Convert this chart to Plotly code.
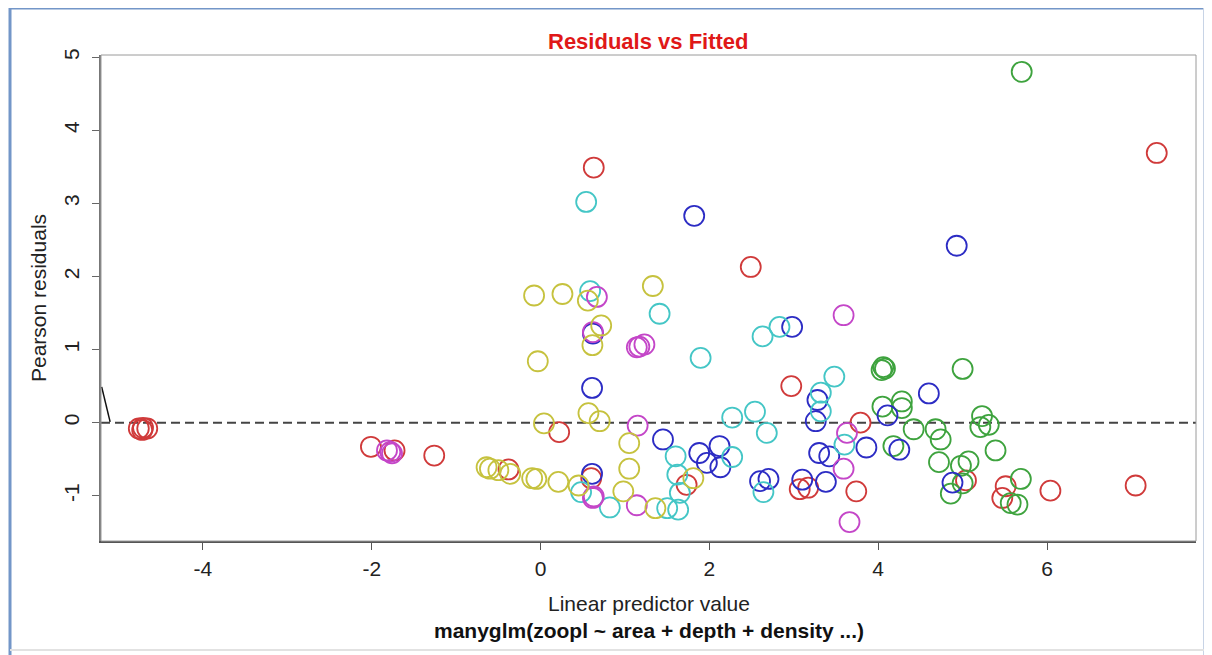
import plotly.graph_objects as go

# ---- data ----
red_x = [-4.76, -4.71, -4.66, -4.72, -2.01, -1.73, -1.26, -0.38, 0.22, 0.60, 0.63, 1.73,
         2.49, 2.97, 3.07, 3.17, 3.74, 3.79, 5.04, 5.51, 5.47, 6.04, 7.05, 7.30]
red_y = [-0.08, -0.07, -0.08, -0.10, -0.33, -0.38, -0.45, -0.64, -0.13, -0.76, 3.49, -0.85,
         2.13, 0.50, -0.91, -0.89, -0.94, 0.00, -0.79, -0.87, -1.03, -0.93, -0.86, 3.69]

green_x = [4.04, 4.06, 4.08, 4.05, 4.28, 4.28, 4.18, 4.42, 4.68, 4.74, 4.72, 4.98, 5.07,
           5.00, 5.23, 5.21, 5.31, 5.39, 4.86, 5.00, 5.69, 5.57, 5.65, 5.70]
green_y = [0.72, 0.76, 0.74, 0.22, 0.29, 0.20, -0.32, -0.09, -0.09, -0.23, -0.54, -0.59, -0.53,
           0.735, 0.09, -0.06, -0.03, -0.38, -0.97, -0.83, -0.77, -1.10, -1.12, 4.80]

blue_x = [0.61, 0.62, 0.61, 1.45, 1.82, 1.88, 1.97, 2.12, 2.13, 2.60, 2.70, 2.98, 3.10,
          3.26, 3.28, 3.30, 3.38, 3.42, 3.86, 4.11, 4.25, 4.60, 4.88, 4.93]
blue_y = [0.475, 1.22, -0.70, -0.23, 2.83, -0.415, -0.55, -0.32, -0.61, -0.80, -0.77, 1.31, -0.78,
          0.02, 0.31, -0.415, -0.81, -0.46, -0.34, 0.10, -0.37, 0.40, -0.82, 2.42]

cyan_x = [0.54, 0.587, 1.41, 1.896, 0.48, 0.82, 1.50, 1.63, 1.60, 1.62, 1.65, 2.27, 2.27,
          2.54, 2.64, 2.68, 2.63, 2.83, 3.32, 3.32, 3.48, 3.60]
cyan_y = [3.02, 1.80, 1.49, 0.886, -0.95, -1.16, -1.17, -1.19, -0.46, -0.71, -0.96, 0.07, -0.47,
          0.15, -0.95, -0.14, 1.18, 1.31, 0.41, 0.155, 0.63, -0.30]

magenta_x = [-1.82, -1.78, -1.76, 0.667, 0.62, 1.14, 1.17, 1.23, 0.63, 0.62, 1.14, 1.15,
             3.59, 3.63, 3.59, 3.66]
magenta_y = [-0.38, -0.40, -0.42, 1.72, 1.24, 1.03, 1.04, 1.07, -1.01, -1.03, -1.13, -0.04,
             1.47, -0.14, -0.63, -1.36]

yellow_x = [-0.64, -0.60, -0.50, -0.36, -0.10, -0.05, 0.21, 0.45, -0.077, 0.259, 0.56, 1.33,
            0.718, 0.614, -0.033, 0.04, 0.567, 0.70, 0.98, 1.05, 1.05, 1.36, 1.81]
yellow_y = [-0.61, -0.63, -0.65, -0.70, -0.76, -0.77, -0.81, -0.86, 1.74, 1.76, 1.67, 1.87,
            1.33, 1.06, 0.84, -0.01, 0.13, 0.02, -0.94, -0.28, -0.63, -1.17, -0.76]

smooth_x = [-5.20, -5.10]
smooth_y = [0.49, 0.01]

x_ticks = [-4, -2, 0, 2, 4, 6]
x_ticklabels = ["-4", "-2", "0", "2", "4", "6"]
y_ticks = [-1, 0, 1, 2, 3, 4, 5]
y_ticklabels = ["-1", "0", "1", "2", "3", "4", "5"]
x_range = [-5.208, 7.765]
y_range = [-1.619, 5.03]

series = [
    (red_x, red_y, "#d03a3a"),
    (green_x, green_y, "#3ea33e"),
    (blue_x, blue_y, "#2c2cc4"),
    (cyan_x, cyan_y, "#44c6c6"),
    (magenta_x, magenta_y, "#c446c8"),
    (yellow_x, yellow_y, "#c6c23e"),
]

fig = go.Figure()

# dashed zero line
fig.add_trace(go.Scatter(x=x_range, y=[0, 0], mode="lines",
                         line=dict(color="#444444", width=2, dash="9px,5px"),
                         hoverinfo="skip", showlegend=False))

for xs, ys, col in series:
    fig.add_trace(go.Scatter(x=xs, y=ys, mode="markers",
                             marker=dict(symbol="circle-open", size=20,
                                         color=col, line=dict(color=col, width=1.8)),
                             showlegend=False))

fig.add_trace(go.Scatter(x=smooth_x, y=smooth_y, mode="lines",
                         line=dict(color="#111111", width=1.5),
                         hoverinfo="skip", showlegend=False))

font_fam = "Liberation Sans, Arial, sans-serif"

# page body has an 8px margin: plot box wanted at screen x 101..1196, y 55..541
fig.update_layout(
    width=1212, height=655,
    margin=dict(l=93, r=24, t=47, b=122),
    paper_bgcolor="white", plot_bgcolor="white",
    showlegend=False,
    font=dict(family=font_fam, size=21, color="#222222"),
    xaxis=dict(range=x_range, tickvals=x_ticks, ticktext=x_ticklabels,
               ticks="outside", ticklen=7,
               tickcolor="#555555", showgrid=False, zeroline=False,
               showline=True, linecolor="#555555", linewidth=1.5,
               ticklabelstandoff=1, tickfont=dict(size=21, color="#222222")),
    yaxis=dict(range=y_range, tickvals=y_ticks, ticktext=y_ticklabels,
               ticks="outside", ticklen=7,
               tickcolor="#666666", showgrid=False, zeroline=False,
               showline=True, linecolor="#777777", linewidth=1.5,
               tickangle=-90, ticklabelstandoff=5,
               tickfont=dict(size=21, color="#222222")),
    shapes=[
        # plot box (top/right)
        dict(type="rect", xref="paper", yref="paper", x0=0, x1=1, y0=0, y1=1,
             line=dict(color="#9a9a9a", width=1)),
        # outer window frame
        dict(type="line", xref="paper", yref="paper", x0=-0.0831, x1=1.0073, y0=1.0967, y1=1.0967,
             line=dict(color="#7396c8", width=3)),
        dict(type="line", xref="paper", yref="paper", x0=-0.0831, x1=-0.0831, y0=-0.235, y1=1.0967,
             line=dict(color="#7396c8", width=3)),
        dict(type="line", xref="paper", yref="paper", x0=1.0073, x1=1.0073, y0=-0.235, y1=1.0967,
             line=dict(color="#c8d4e6", width=2)),
        dict(type="line", xref="paper", yref="paper", x0=-0.0831, x1=1.0073, y0=-0.2243, y1=-0.2243,
             line=dict(color="#e2e2e2", width=2)),
    ],
    annotations=[
        dict(text="<b>Residuals vs Fitted</b>", xref="paper", yref="paper", x=0.5, y=1.0288,
             xanchor="center", yanchor="middle", showarrow=False,
             font=dict(family=font_fam, size=22, color="#e01818")),
        dict(text="Pearson residuals", xref="paper", yref="paper", x=-0.0575, y=0.5,
             xanchor="center", yanchor="middle", textangle=-90, showarrow=False,
             font=dict(family=font_fam, size=21, color="#222222")),
        dict(text="Linear predictor value", xref="paper", yref="paper", x=0.5, y=-0.1296,
             xanchor="center", yanchor="middle", showarrow=False,
             font=dict(family=font_fam, size=21, color="#222222")),
        dict(text="<b>manyglm(zoopl ~ area + depth + density ...)</b>", xref="paper", yref="paper",
             x=0.5, y=-0.185, xanchor="center", yanchor="middle", showarrow=False,
             font=dict(family=font_fam, size=21, color="#111111")),
    ],
)

fig.write_html("out.html")
